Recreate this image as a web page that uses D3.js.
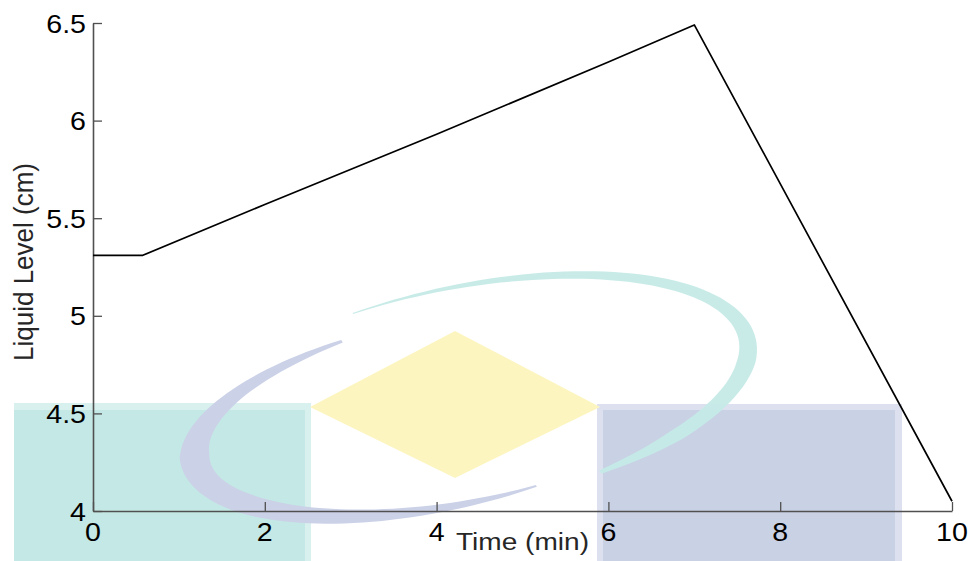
<!DOCTYPE html>
<html>
<head>
<meta charset="utf-8">
<script src="https://cdn.jsdelivr.net/npm/d3@7"></script>
<style>
    body { margin: 0; background: #fff; }
    svg { display: block; }
</style>
</head>
<body>
<div id="container"><svg></svg></div>
<script>
// liquid level vs time
const timeMin = [0, 0.58, 2, 4, 6, 7.0, 10]
const levelCm = [5.31, 5.31, 5.57, 5.93, 6.30, 6.49, 4.05]

const xTicks = [0, 2, 4, 6, 8, 10]
const yTicks = [4, 4.5, 5, 5.5, 6, 6.5]
const yTickLabels = ["4", "4.5", "5", "5.5", "6", "6.5"]

const xLabel = "Time (min)"
const yLabel = "Liquid Level (cm)"

let svgWidth = 971
let svgHeight = 561
let margin = { left: 93, right: 19, top: 23, bottom: 50 }

const svg = d3.select("svg")
    .attr("width", svgWidth)
    .attr("height", svgHeight)

// watermark in the background (logo shapes, not data)
const wm = svg.append("g").attr("id", "watermark")

wm.append("rect").attr("x", 14).attr("y", 403).attr("width", 297).attr("height", 160).attr("fill", "#d8f0ee")
wm.append("rect").attr("x", 14).attr("y", 410).attr("width", 291).attr("height", 160).attr("fill", "#c4e8e5")
wm.append("rect").attr("x", 597).attr("y", 404).attr("width", 305).attr("height", 160).attr("fill", "#dde1ef")
wm.append("rect").attr("x", 603).attr("y", 410).attr("width", 292).attr("height", 160).attr("fill", "#c9d1e5")

wm.append("polygon")
    .attr("points", [[310, 407], [455, 331], [600, 407], [455, 478]].map(p => p.join(",")).join(" "))
    .attr("fill", "#fdf5c0")

function crescent(cx, cy, a, b, rot, widths) {
    let p0 = widths[0][0], p1 = widths[widths.length - 1][0]
    let wScale = d3.scaleLinear().domain(widths.map(d => d[0])).range(widths.map(d => d[1]))
    let outer = [], inner = []
    let n = 80
    for (let i = 0; i <= n; i++) {
        let phi = p0 + (p1 - p0) * i / n
        let w = wScale(phi) / 2
        let pt = (aa, bb) => [
            cx + aa * Math.cos(phi) * Math.cos(rot) - bb * Math.sin(phi) * Math.sin(rot),
            cy + aa * Math.cos(phi) * Math.sin(rot) + bb * Math.sin(phi) * Math.cos(rot)
        ]
        outer.push(pt(a + w, b + w))
        inner.push(pt(a - w, b - w))
    }
    return d3.line()(outer.concat(inner.reverse())) + "Z"
}

wm.append("path")
    .attr("d", crescent(450, 410, 260, 95, -0.2,
        [[1.3, 2], [1.8, 10], [2.6, 24], [3.2, 30], [3.8, 14], [4.35, 3]]))
    .attr("fill", "#cbd1e7")

wm.append("path")
    .attr("d", crescent(465, 397, 288, 110, -0.2,
        [[-1.9, 1], [-1.2, 7], [-0.4, 13], [0.2, 19], [0.8, 14], [1.15, 4]]))
    .attr("fill", "#c5eae7")
    .attr("opacity", 0.95)

// scales
var x = d3.scaleLinear()
    .domain([0, 10])
    .range([margin.left, svgWidth - margin.right])

var y = d3.scaleLinear()
    .domain([4, 6.5])
    .range([svgHeight - margin.bottom, margin.top])

// axes (MATLAB style, ticks inside, no box)
var xAxis = svg.append("g")
    .attr("transform", `translate(0, ${y(4)})`)
    .call(d3.axisBottom(x).tickValues(xTicks).tickSizeInner(-9).tickSizeOuter(0).tickFormat(""))

var yAxis = svg.append("g")
    .attr("transform", `translate(${x(0)}, 0)`)
    .call(d3.axisLeft(y).tickValues(yTicks).tickSizeInner(-9).tickSizeOuter(0).tickFormat(""))

svg.selectAll(".domain").attr("stroke", "#505050").attr("stroke-width", 1.6)
svg.selectAll(".tick line").attr("stroke", "#505050").attr("stroke-width", 1.3)

// tick labels, slightly stretched like the original
svg.append("g")
    .selectAll("text")
    .data(xTicks)
    .enter()
    .append("text")
    .attr("transform", d => `translate(${x(d)}, ${y(4) + 30}) scale(1.1, 1)`)
    .attr("text-anchor", "middle")
    .style("font-family", "Liberation Sans, Arial, sans-serif")
    .style("font-size", "26px")
    .attr("fill", "#000")
    .text(d => d)

svg.append("g")
    .selectAll("text")
    .data(yTicks)
    .enter()
    .append("text")
    .attr("transform", d => `translate(${x(0) - 7}, ${y(d) + 9.5}) scale(1.1, 1)`)
    .attr("text-anchor", "end")
    .style("font-family", "Liberation Sans, Arial, sans-serif")
    .style("font-size", "26px")
    .attr("fill", "#000")
    .text((d, i) => yTickLabels[i])

svg.append("text")
    .attr("transform", `translate(${(x(0) + x(10)) / 2}, 550) scale(1.17, 1)`)
    .attr("text-anchor", "middle")
    .style("font-family", "Liberation Sans, Arial, sans-serif")
    .style("font-size", "24px")
    .attr("fill", "#262626")
    .text(xLabel)

svg.append("text")
    .attr("transform", `translate(33, 262) rotate(-90) scale(1, 1.05)`)
    .attr("text-anchor", "middle")
    .style("font-family", "Liberation Sans, Arial, sans-serif")
    .style("font-size", "26px")
    .attr("fill", "#262626")
    .text(yLabel)

// the level curve
var points = timeMin.map((t, i) => ({ t: t, v: levelCm[i] }))

svg.append("path")
    .datum(points)
    .attr("fill", "none")
    .attr("stroke", "#000")
    .attr("stroke-width", 1.7)
    .attr("stroke-linejoin", "round")
    .attr("d", d3.line()
        .x(d => x(d.t))
        .y(d => y(d.v)))
</script>
</body>
</html>
